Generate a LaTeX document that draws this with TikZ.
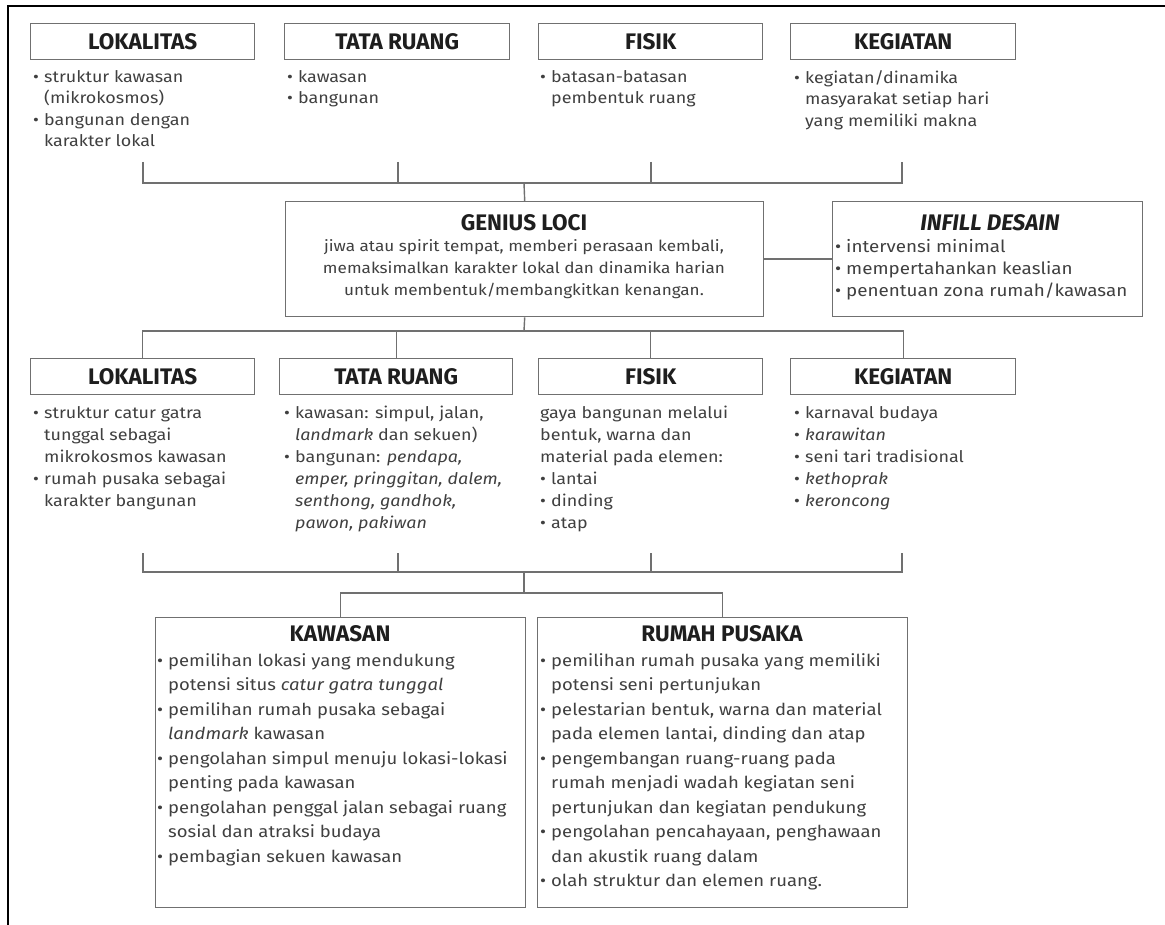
\documentclass[tikz,border=0pt]{standalone}
\usepackage{fontspec}
\setmainfont{Fira Sans}[FakeStretch=1.12]
\newfontfamily\headfamily{Fira Sans}
\definecolor{boxline}{HTML}{707070}
\definecolor{txtc}{HTML}{404040}
\definecolor{headc}{HTML}{1E1E1E}
\newcommand{\hfnt}{\headfamily\fontsize{22.5}{25}\selectfont\bfseries}
\newcommand{\tfnt}{\fontsize{16}{21.5}\selectfont}
\newcommand{\mfnt}{\fontsize{16}{22}\selectfont}
\newcommand{\gfnt}{\fontsize{15.3}{22}\selectfont}
\newcommand{\ifnt}{\fontsize{16.8}{22}\selectfont}
\newcommand{\bfnt}{\fontsize{16.5}{24.5}\selectfont}
\newcommand{\bl}{\makebox[11pt][l]{\textbullet}}
\newcommand{\ind}{\hspace*{11pt}}
\tikzset{
  hbox/.style={draw=boxline, line width=1.4pt, minimum height=36pt, inner sep=0pt, font=\hfnt, text=headc},
  bigbox/.style={draw=boxline, line width=1.4pt, inner sep=0pt},
  txt/.style={inner sep=0pt, align=left, font=\tfnt, text=txtc},
  btxt/.style={inner sep=0pt, align=left, font=\bfnt, text=txtc},
  conn/.style={draw=boxline, line width=1.4pt},
  ttl/.style={inner sep=0pt, font=\hfnt, text=headc}
}
\begin{document}
\begin{tikzpicture}[x=1pt,y=-1pt]
\useasboundingbox (0,0) rectangle (1165,925);
\fill[white] (0,0) rectangle (1165,925);
% frame
\draw[line width=2.6pt, black] (8,925) -- (8,6) -- (1165,6);

% row 1 headers
\node[hbox, anchor=north west, minimum width=224] (a1) at (30,23) {LOKALITAS};
\node[hbox, anchor=north west, minimum width=225] (a2) at (284,23) {TATA RUANG};
\node[hbox, anchor=north west, minimum width=224] (a3) at (538,23) {FISIK};
\node[hbox, anchor=north west, minimum width=225] (a4) at (790,23) {KEGIATAN};

% row 1 texts
\node[txt, anchor=north west] (ta1) at (33,70) {\bl struktur kawasan\\\ind(mikrokosmos)\\\bl bangunan dengan\\\ind karakter lokal};
\node[txt, anchor=north west] (ta2) at (287,70) {\bl kawasan\\\bl bangunan};
\node[txt, anchor=north west] (ta3) at (540,70) {\bl batasan-batasan\\\ind pembentuk ruang};
\node[txt, anchor=north west] (ta4) at (794,70) {\bl kegiatan/dinamika\\\ind masyarakat setiap hari\\\ind yang memiliki makna};

% genius loci
\node[bigbox, anchor=north west, minimum width=478, minimum height=115] (gl) at (285,201) {};
\node[ttl, anchor=north] (glt) at (524,214) {GENIUS LOCI};
\node[txt, font=\gfnt, align=center, anchor=north] (gltx) at (524,239) {jiwa atau spirit tempat, memberi perasaan kembali,\\memaksimalkan karakter lokal dan dinamika harian\\untuk membentuk/membangkitkan kenangan.};

% infill
\node[bigbox, anchor=north west, minimum width=310, minimum height=115] (inf) at (832,201) {};
\node[ttl, anchor=north] (inft) at (990,214) {\itshape INFILL DESAIN};
\node[txt, font=\ifnt, anchor=north west] (inftx) at (835,239) {\bl intervensi minimal\\\bl mempertahankan keaslian\\\bl penentuan zona rumah/kawasan};

% row 2 headers
\node[hbox, anchor=north west, minimum width=224] (b1) at (30,358) {LOKALITAS};
\node[hbox, anchor=north west, minimum width=233] (b2) at (279,358) {TATA RUANG};
\node[hbox, anchor=north west, minimum width=224] (b3) at (538,358) {FISIK};
\node[hbox, anchor=north west, minimum width=225] (b4) at (790,358) {KEGIATAN};

% row 2 texts
\node[txt, font=\mfnt, anchor=north west] (tb1) at (33,406) {\bl struktur catur gatra\\\ind tunggal sebagai\\\ind mikrokosmos kawasan\\\bl rumah pusaka sebagai\\\ind karakter bangunan};
\node[txt, font=\mfnt, anchor=north west] (tb2) at (284,406) {\bl kawasan: simpul, jalan,\\\ind\textit{landmark} dan sekuen)\\\bl bangunan: \textit{pendapa,}\\\ind\textit{emper, pringgitan, dalem,}\\\ind\textit{senthong, gandhok,}\\\ind\textit{pawon, pakiwan}};
\node[txt, font=\mfnt, anchor=north west] (tb3) at (540,406) {gaya bangunan melalui\\bentuk, warna dan\\material pada elemen:\\\bl lantai\\\bl dinding\\\bl atap};
\node[txt, font=\mfnt, anchor=north west] (tb4) at (794,406) {\bl karnaval budaya\\\bl\textit{karawitan}\\\bl seni tari tradisional\\\bl\textit{kethoprak}\\\bl\textit{keroncong}};

% bottom boxes
\node[bigbox, anchor=north west, minimum width=370, minimum height=290] (kw) at (155,617) {};
\node[ttl, anchor=north] (kwt) at (340,625) {KAWASAN};
\node[btxt, anchor=north west] (kwtx) at (157,653) {\bl pemilihan lokasi yang mendukung\\\ind potensi situs \textit{catur gatra tunggal}\\\bl pemilihan rumah pusaka sebagai\\\ind\textit{landmark} kawasan\\\bl pengolahan simpul menuju lokasi-lokasi\\\ind penting pada kawasan\\\bl pengolahan penggal jalan sebagai ruang\\\ind sosial dan atraksi budaya\\\bl pembagian sekuen kawasan};

\node[bigbox, anchor=north west, minimum width=370, minimum height=290] (rp) at (537,617) {};
\node[ttl, anchor=north] (rpt) at (722,625) {RUMAH PUSAKA};
\node[btxt, anchor=north west] (rptx) at (540,653) {\bl pemilihan rumah pusaka yang memiliki\\\ind potensi seni pertunjukan\\\bl pelestarian bentuk, warna dan material\\\ind pada elemen lantai, dinding dan atap\\\bl pengembangan ruang-ruang pada\\\ind rumah menjadi wadah kegiatan seni\\\ind pertunjukan dan kegiatan pendukung\\\bl pengolahan pencahayaan, penghawaan\\\ind dan akustik ruang dalam\\\bl olah struktur dan elemen ruang.};

% connectors
\coordinate (u1) at (143,162);
\coordinate (u2) at (398,162);
\coordinate (u3) at (651,162);
\coordinate (u4) at (902,162);
\coordinate (uj) at (524,183);
\draw[conn] (u1) |- (u4 |- uj) -- (u4);
\draw[conn] (u2) -- (u2 |- uj);
\draw[conn] (u3) -- (u3 |- uj);
\draw[conn] (uj) -- (gl.north);
\draw[conn] (gl.east) -- (inf.west);

\coordinate (mj) at (524,331);
\draw[conn] (gl.south) -- (mj);
\draw[conn] (b1.north) |- (b4.north |- mj) -- (b4.north);
\draw[conn] (b2.north) -- (b2.north |- mj);
\draw[conn] (b3.north) -- (b3.north |- mj);

\coordinate (v1) at (143,553);
\coordinate (v2) at (398,553);
\coordinate (v3) at (651,553);
\coordinate (v4) at (902,553);
\coordinate (vj) at (524,572);
\coordinate (wj) at (524,593);
\draw[conn] (v1) |- (v4 |- vj) -- (v4);
\draw[conn] (v2) -- (v2 |- vj);
\draw[conn] (v3) -- (v3 |- vj);
\draw[conn] (vj) -- (wj);
\draw[conn] (kw.north) |- (rp.north |- wj) -- (rp.north);
\end{tikzpicture}
\end{document}
